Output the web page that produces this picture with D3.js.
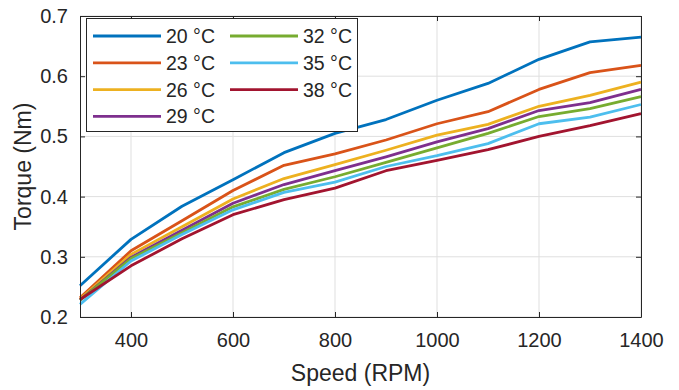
<!DOCTYPE html>
<html>
<head>
<meta charset="utf-8">
<script src="https://cdn.jsdelivr.net/npm/d3@7"></script>
<style>
  html, body { margin: 0; padding: 0; background: #fff; }
  svg { display: block; font-family: "Liberation Sans", Arial, Helvetica, sans-serif; }
</style>
</head>
<body>
<svg id="chart" width="679" height="390"></svg>
<script>
// Motor speed (RPM) sampled every 100 RPM
const speeds = [300, 400, 500, 600, 700, 800, 900, 1000, 1100, 1200, 1300, 1400];

// Torque (Nm) per ambient temperature
const torque20 = [0.252, 0.329, 0.384, 0.428, 0.473, 0.505, 0.528, 0.560, 0.588, 0.628, 0.657, 0.665];
const torque23 = [0.232, 0.310, 0.360, 0.410, 0.452, 0.471, 0.494, 0.521, 0.541, 0.578, 0.606, 0.618];
const torque26 = [0.230, 0.304, 0.350, 0.396, 0.430, 0.453, 0.477, 0.502, 0.520, 0.550, 0.568, 0.590];
const torque29 = [0.228, 0.299, 0.344, 0.389, 0.420, 0.443, 0.466, 0.491, 0.513, 0.543, 0.556, 0.578];
const torque32 = [0.228, 0.297, 0.340, 0.383, 0.412, 0.433, 0.457, 0.481, 0.505, 0.533, 0.546, 0.566];
const torque35 = [0.221, 0.293, 0.337, 0.378, 0.407, 0.424, 0.450, 0.468, 0.488, 0.521, 0.532, 0.553];
const torque38 = [0.229, 0.285, 0.330, 0.370, 0.395, 0.414, 0.443, 0.460, 0.478, 0.500, 0.518, 0.538];

const seriesLabels = ["20 °C", "23 °C", "26 °C", "29 °C", "32 °C", "35 °C", "38 °C"];
const seriesValues = [torque20, torque23, torque26, torque29, torque32, torque35, torque38];
const seriesColors = ["#0072BD", "#D95319", "#EDB120", "#7E2F8E", "#77AC30", "#4DBEEE", "#A2142F"];

const xTicks = [400, 600, 800, 1000, 1200, 1400];
const yTicks = [0.2, 0.3, 0.4, 0.5, 0.6, 0.7];

const svg = d3.select("#chart");
const plot = { left: 80, right: 641, top: 16, bottom: 317 };
const ink = "#262626";

const x = d3.scaleLinear().domain([300, 1400]).range([plot.left, plot.right]);
const y = d3.scaleLinear().domain([0.2, 0.7]).range([plot.bottom, plot.top]);

// Grid
const grid = svg.append("g");
grid.selectAll(".gx").data(xTicks).join("line")
  .attr("x1", d => x(d)).attr("x2", d => x(d))
  .attr("y1", plot.top).attr("y2", plot.bottom)
  .attr("stroke", "#dfdfdf").attr("stroke-width", 1);
grid.selectAll(".gy").data(yTicks).join("line")
  .attr("x1", plot.left).attr("x2", plot.right)
  .attr("y1", d => y(d)).attr("y2", d => y(d))
  .attr("stroke", "#dfdfdf").attr("stroke-width", 1);

// Series lines
const line = d3.line().x((d, i) => x(speeds[i])).y(d => y(d));
svg.append("g").selectAll("path").data(seriesValues).join("path")
  .attr("d", d => line(d))
  .attr("fill", "none")
  .attr("stroke", (d, i) => seriesColors[i])
  .attr("stroke-width", 2.8)
  .attr("stroke-linejoin", "round");

// Axes (ticks inward, box on all four sides)
const tickLen = 5;
const styleAxis = g => {
  g.select(".domain").attr("stroke", ink);
  g.selectAll(".tick line").attr("stroke", ink);
  g.selectAll(".tick text").attr("fill", ink).attr("font-size", 20)
    .attr("font-family", "Liberation Sans, Arial, sans-serif");
};

svg.append("g").attr("transform", `translate(0,${plot.bottom})`)
  .call(d3.axisBottom(x).tickValues(xTicks).tickSizeInner(-tickLen).tickSizeOuter(0).tickPadding(16).tickFormat(d3.format("d")))
  .call(styleAxis);
svg.append("g").attr("transform", `translate(0,${plot.top})`)
  .call(d3.axisTop(x).tickValues(xTicks).tickSizeInner(-tickLen).tickSizeOuter(0).tickFormat(""))
  .call(styleAxis);
svg.append("g").attr("transform", `translate(${plot.left},0)`)
  .call(d3.axisLeft(y).tickValues(yTicks).tickSizeInner(-tickLen).tickSizeOuter(0).tickPadding(12).tickFormat(d3.format(".1f")))
  .call(styleAxis);
svg.append("g").attr("transform", `translate(${plot.right},0)`)
  .call(d3.axisRight(y).tickValues(yTicks).tickSizeInner(-tickLen).tickSizeOuter(0).tickFormat(""))
  .call(styleAxis);

// Axis titles
svg.append("text")
  .attr("x", (plot.left + plot.right) / 2).attr("y", 381)
  .attr("text-anchor", "middle").attr("font-size", 23).attr("fill", ink)
  .text("Speed (RPM)");
svg.append("text")
  .attr("transform", `translate(31,${(plot.top + plot.bottom) / 2}) rotate(-90)`)
  .attr("text-anchor", "middle").attr("font-size", 23).attr("fill", ink)
  .text("Torque (Nm)");

// Legend (two columns)
const legend = svg.append("g");
legend.append("rect")
  .attr("x", 86.5).attr("y", 18.5).attr("width", 271).attr("height", 113)
  .attr("fill", "#fff").attr("stroke", ink).attr("stroke-width", 1);
const rows = 4, rowGap = 26.8, colX = [93, 230], rowY0 = 36;
seriesLabels.forEach((lab, i) => {
  const col = Math.floor(i / rows), row = i % rows;
  const lx = colX[col], ly = rowY0 + row * rowGap;
  legend.append("line")
    .attr("x1", lx).attr("x2", lx + 68).attr("y1", ly).attr("y2", ly)
    .attr("stroke", seriesColors[i]).attr("stroke-width", 2.8);
  legend.append("text")
    .attr("x", lx + 73).attr("y", ly + 7)
    .attr("font-size", 19.5).attr("fill", ink)
    .text(lab);
});
</script>
</body>
</html>
